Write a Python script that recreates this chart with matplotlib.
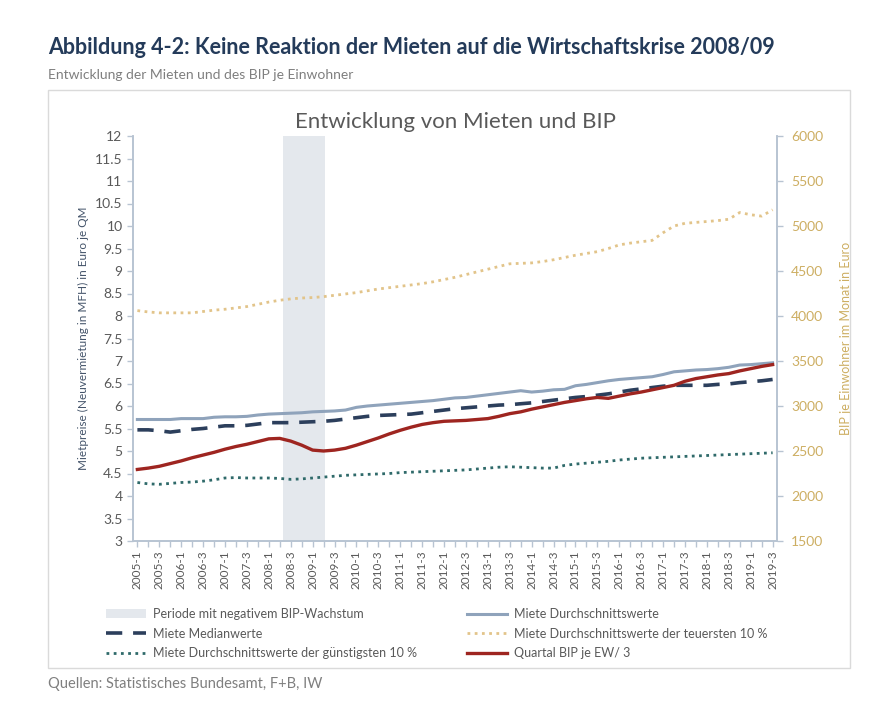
import matplotlib.pyplot as plt
import numpy as np
from matplotlib.patches import Rectangle, Patch
from matplotlib.lines import Line2D
from matplotlib.ticker import FuncFormatter

plt.rcParams['font.family'] = ['Lato', 'DejaVu Sans']

# Quartale 2005-1 bis 2019-3
quarters = [f"{y}-{q}" for y in range(2005, 2020) for q in range(1, 5)][:59]

# Mietpreise in Euro je qm
miete_durchschnitt = [5.70, 5.70, 5.70, 5.70, 5.72, 5.72, 5.72, 5.75, 5.76, 5.76,
                      5.77, 5.80, 5.82, 5.83, 5.84, 5.85, 5.87, 5.88, 5.89, 5.91,
                      5.97, 6.00, 6.02, 6.04, 6.06, 6.08, 6.10, 6.12, 6.15, 6.18,
                      6.19, 6.22, 6.25, 6.28, 6.31, 6.34, 6.31, 6.33, 6.36, 6.37,
                      6.45, 6.48, 6.52, 6.56, 6.59, 6.61, 6.63, 6.65, 6.70, 6.76,
                      6.78, 6.80, 6.81, 6.83, 6.86, 6.91, 6.92, 6.94, 6.96]
miete_median = [5.47, 5.47, 5.45, 5.42, 5.45, 5.48, 5.50, 5.53, 5.56, 5.56,
                5.57, 5.60, 5.63, 5.63, 5.63, 5.64, 5.65, 5.66, 5.68, 5.71,
                5.74, 5.77, 5.79, 5.80, 5.81, 5.82, 5.85, 5.88, 5.91, 5.94,
                5.96, 5.98, 6.00, 6.02, 6.03, 6.05, 6.07, 6.10, 6.13, 6.16,
                6.19, 6.21, 6.24, 6.27, 6.31, 6.35, 6.38, 6.41, 6.44, 6.46,
                6.46, 6.46, 6.46, 6.48, 6.49, 6.52, 6.54, 6.56, 6.59]
miete_teuer = [8.12, 8.09, 8.07, 8.07, 8.07, 8.07, 8.10, 8.13, 8.15, 8.18,
               8.21, 8.26, 8.31, 8.35, 8.38, 8.40, 8.41, 8.43, 8.46, 8.49,
               8.52, 8.56, 8.60, 8.63, 8.66, 8.69, 8.72, 8.76, 8.81, 8.86,
               8.92, 8.98, 9.04, 9.10, 9.16, 9.17, 9.18, 9.21, 9.25, 9.30,
               9.35, 9.39, 9.43, 9.50, 9.58, 9.62, 9.65, 9.68, 9.85, 10.00,
               10.06, 10.08, 10.10, 10.12, 10.15, 10.30, 10.25, 10.22, 10.36]
miete_guenstig = [4.30, 4.27, 4.26, 4.28, 4.30, 4.31, 4.33, 4.36, 4.40, 4.41,
                  4.40, 4.40, 4.40, 4.39, 4.37, 4.38, 4.40, 4.42, 4.44, 4.46,
                  4.47, 4.48, 4.49, 4.50, 4.52, 4.53, 4.54, 4.55, 4.56, 4.57,
                  4.58, 4.60, 4.62, 4.64, 4.65, 4.64, 4.63, 4.62, 4.62, 4.68,
                  4.71, 4.73, 4.75, 4.77, 4.80, 4.82, 4.84, 4.85, 4.86, 4.87,
                  4.88, 4.89, 4.90, 4.91, 4.92, 4.93, 4.94, 4.95, 4.96]
# Quartal BIP je Einwohner / 3 (Euro)
bip = [2295, 2310, 2330, 2360, 2390, 2425, 2455, 2485, 2520, 2550,
       2575, 2605, 2635, 2640, 2610, 2565, 2510, 2500, 2510, 2530,
       2565, 2605, 2645, 2690, 2730, 2765, 2795, 2815, 2830, 2835,
       2840, 2850, 2860, 2885, 2915, 2935, 2965, 2990, 3015, 3040,
       3060, 3080, 3095, 3085, 3110, 3135, 3155, 3180, 3205, 3230,
       3275, 3305, 3325, 3345, 3360, 3390, 3415, 3440, 3460]
# Periode mit negativem BIP-Wachstum (Quartalsindex)
krise_start, krise_ende = 13.3, 17.1

c_avg = "#8FA3BB"
c_med = "#2C3F5C"
c_teuer = "#E2C48A"
c_guenstig = "#2F6A6A"
c_bip = "#9E2520"
c_shade = "#E4E8ED"
c_spine = "#B8C4D2"
c_gold = "#CDAE62"
c_text = "#595959"

fig = plt.figure(figsize=(8.92, 7.26), dpi=100)
W, H = 892, 726
ax = fig.add_axes([133 / W, 1 - 541 / H, (777 - 133) / W, (541 - 136) / H])
ax2 = ax.twinx()

x = np.arange(len(quarters))
ax.axvspan(krise_start, krise_ende, color=c_shade, lw=0, zorder=0)
ax.plot(x, miete_teuer, color=c_teuer, lw=2, dashes=(1, 1.6), zorder=3)
ax.plot(x, miete_guenstig, color=c_guenstig, lw=2, dashes=(1, 1.6), zorder=3)
ax.plot(x, miete_durchschnitt, color=c_avg, lw=2.2, zorder=3)
ax.plot(x, miete_median, color=c_med, lw=2.6, dashes=(4.5, 3), zorder=4)
ax2.plot(x, bip, color=c_bip, lw=2.4, zorder=5)

ax.set_xlim(-0.4, 58.4)
ax.set_ylim(3, 12)
ax.set_yticks(np.arange(3, 12.01, 0.5))
ax.yaxis.set_major_formatter(FuncFormatter(lambda v, p: f"{v:g}"))
ax2.set_ylim(1500, 6000)
ax2.set_yticks(np.arange(1500, 6001, 500))

ax.set_xticks(x)
ax.set_xticklabels([q if i % 2 == 0 else "" for i, q in enumerate(quarters)],
                   rotation=90, fontsize=8.5, color=c_text)

for a in (ax, ax2):
    a.spines['top'].set_visible(False)
    for s in ('left', 'right', 'bottom'):
        a.spines[s].set_color(c_spine)
        a.spines[s].set_linewidth(1.2)
ax.tick_params(axis='y', colors=c_spine, labelcolor=c_text, labelsize=10, length=4, width=1)
ax.tick_params(axis='x', colors=c_spine, labelcolor=c_text, length=4, width=1, pad=3)
ax2.tick_params(axis='y', colors=c_spine, labelcolor=c_gold, labelsize=10, length=4, width=1, pad=6)

ax.set_ylabel("Mietpreise (Neuvermietung in MFH) in Euro je QM", fontsize=8.5, color="#44546A", labelpad=4)
ax2.set_ylabel("BIP je Einwohner im Monat in Euro", fontsize=9, color=c_gold, labelpad=12)
ax.set_title("Entwicklung von Mieten und BIP", fontsize=16, color=c_text, pad=6)

# Rahmen des Diagramms
fig.patches.append(Rectangle((48 / W, 1 - 668 / H), (850 - 48) / W, (668 - 90) / H,
                             transform=fig.transFigure, fill=False, ec="#DADADA", lw=1))

handles1 = [
    Patch(facecolor=c_shade, edgecolor='none'),
    Line2D([], [], color=c_med, lw=2.6, dashes=(4.5, 3)),
    Line2D([], [], color=c_guenstig, lw=2, dashes=(1, 1.6)),
]
labels1 = [
    "Periode mit negativem BIP-Wachstum",
    "Miete Medianwerte",
    "Miete Durchschnittswerte der günstigsten 10 %",
]
handles2 = [
    Line2D([], [], color=c_avg, lw=2.2),
    Line2D([], [], color=c_teuer, lw=2, dashes=(1, 1.6)),
    Line2D([], [], color=c_bip, lw=2.4),
]
labels2 = [
    "Miete Durchschnittswerte",
    "Miete Durchschnittswerte der teuersten 10 %",
    "Quartal BIP je EW/ 3",
]
leg_kw = dict(loc='upper left', frameon=False, fontsize=9, labelcolor=c_text,
              handlelength=3.2, handletextpad=0.55, labelspacing=0.6,
              borderaxespad=0, borderpad=0)
fig.legend(handles1, labels1, bbox_to_anchor=(106 / W, 1 - 608 / H), **leg_kw)
fig.legend(handles2, labels2, bbox_to_anchor=(467 / W, 1 - 608 / H), **leg_kw)

fig.text(48 / W, 1 - 48 / H, "Abbildung 4-2: Keine Reaktion der Mieten auf die Wirtschaftskrise 2008/09",
         fontsize=15.5, fontweight='bold', color="#243B5A", va='center', ha='left')
fig.text(48 / W, 1 - 75 / H, "Entwicklung der Mieten und des BIP je Einwohner",
         fontsize=10, color="#7F7F7F", va='center', ha='left')
fig.text(48 / W, 1 - 684 / H, "Quellen: Statistisches Bundesamt, F+B, IW",
         fontsize=10.5, color="#7F7F7F", va='center', ha='left')

fig.savefig("out.png", dpi=100)
